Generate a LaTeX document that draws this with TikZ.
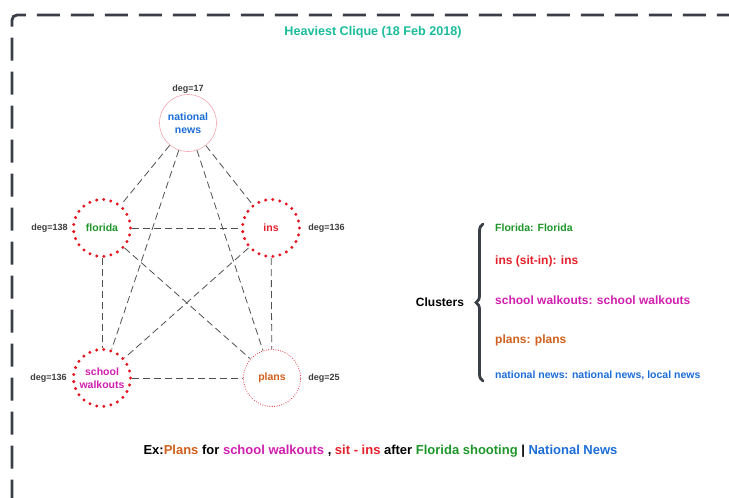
\documentclass[tikz,border=0pt]{standalone}
\usepackage{fontspec}
\setmainfont{Liberation Sans}
\usetikzlibrary{positioning,decorations.pathreplacing}

\definecolor{framegray}{HTML}{3A3F47}
\definecolor{edgegray}{HTML}{505050}
\definecolor{deggray}{HTML}{3C3C3C}
\definecolor{titleteal}{HTML}{1ABC9C}
\definecolor{dotred}{HTML}{E3141E}
\definecolor{pinkline}{HTML}{F2A7AF}
\definecolor{flgreen}{HTML}{1E962A}
\definecolor{insred}{HTML}{E3202A}
\definecolor{walkmag}{HTML}{D21FB0}
\definecolor{planorange}{HTML}{D0601C}
\definecolor{newsblue}{HTML}{1C6ED8}

\begin{document}
\begin{tikzpicture}[x=1pt,y=-1pt,
	term/.style={circle,minimum size=57pt,inner sep=0pt,align=center,font=\bfseries\fontsize{10.5}{12.5}\selectfont},
	bigdots/.style={draw=dotred,line width=3.3pt,line cap=round,dash pattern=on 0pt off 7.16pt},
	finedots/.style={draw=dotred!85,line width=1.1pt,line cap=round,dash pattern=on 0pt off 2.4pt},
	deglabel/.style={inner sep=0pt,text=deggray,font=\bfseries\fontsize{9}{11}\selectfont},
	edge/.style={draw=edgegray,line width=0.8pt,dash pattern=on 7pt off 4pt},
	cluster/.style={anchor=west,inner sep=0pt,font=\bfseries\fontsize{12}{14}\selectfont}]
	\useasboundingbox (0,0) rectangle (729,498);
	\fill[white] (0,0) rectangle (729,498);
	
	% outer frame
	\draw[framegray,line width=2.8pt,rounded corners=5pt,dash pattern=on 23pt off 11pt] (12,536.5) -- (12,15) -- (760,15);
	
	\node[text=titleteal,font=\bfseries\fontsize{12.6}{15}\selectfont] (title) at (373,32) {Heaviest Clique (18 Feb 2018)};
	
	% clique
	\node[term,draw=pinkline,line width=0.6pt,text=newsblue] (nat) at (188,123) {national\\news};
	\node[deglabel,above=0.5pt of nat] (degnat) {deg=17};
	
	\node[term,bigdots,text=flgreen] (flo) at (102,228) {florida};
	\node[deglabel,left=4pt of flo] (degflo) {deg=138};
	
	\node[term,bigdots,text=insred] (ins) at (271,228) {ins};
	\node[deglabel,right=7pt of ins] (degins) {deg=136};
	
	\node[term,bigdots,text=walkmag] (sch) at (102,378) {school\\walkouts};
	\node[deglabel,left=5pt of sch] (degsch) {deg=136};
	
	\node[term,finedots,text=planorange] (pla) at (272,378) {plans};
	\node[deglabel,right=7pt of pla] (degpla) {deg=25};
	
	\draw[edge] (nat)--(flo);
	\draw[edge] (nat)--(ins);
	\draw[edge] (nat)--(sch);
	\draw[edge] (nat)--(pla);
	\draw[edge] (flo)--(ins);
	\draw[edge] (flo)--(sch);
	\draw[edge] (flo)--(pla);
	\draw[edge] (ins)--(sch);
	\draw[edge] (ins)--(pla);
	\draw[edge] (sch)--(pla);
	
	% clusters
	\node[font=\bfseries\fontsize{12}{14}\selectfont] (clusters) at (440,302) {Clusters};
	\coordinate (bracebot) at (483,381);
	\coordinate (bracetop) at (483,224);
	\draw[framegray,line width=2.8pt,line cap=round,decorate,decoration={brace,amplitude=7pt}] (bracebot)--(bracetop);
	
	\node[cluster,text=flgreen,font=\bfseries\fontsize{10.5}{12}\selectfont] (cflo) at (495,228) {Florida: Florida};
	\node[cluster,text=insred] (cins) at (495,261) {ins (sit-in): ins};
	\node[cluster,text=walkmag] (csch) at (495,300) {school walkouts: school walkouts};
	\node[cluster,text=planorange] (cpla) at (495,340) {plans: plans};
	\node[cluster,text=newsblue,font=\bfseries\fontsize{10.5}{12}\selectfont] (cnat) at (495,376) {national news: national news, local news};
	
	% example
	\node[font=\bfseries\fontsize{13}{15}\selectfont] (example) at (380.5,451) {Ex:\textcolor{planorange}{Plans} for \textcolor{walkmag}{school walkouts} , \textcolor{insred}{sit - ins} after \textcolor{flgreen}{Florida shooting} | \textcolor{newsblue}{National News}};
\end{tikzpicture}
\end{document}
